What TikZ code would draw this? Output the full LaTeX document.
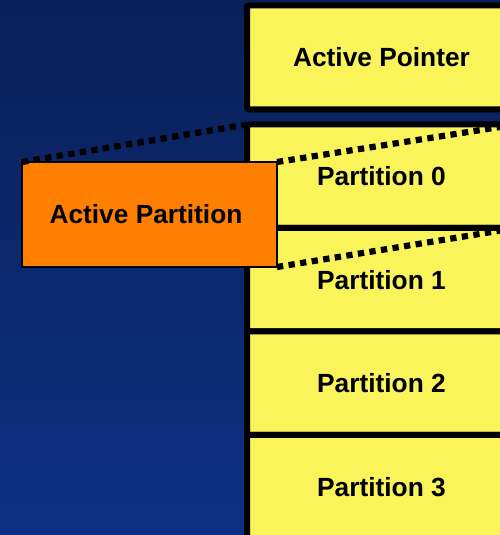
\documentclass[tikz,border=0pt]{standalone}
\usepackage{fontspec}
\setmainfont{Liberation Sans}
\begin{document}
\begin{tikzpicture}[x=1bp,y=1bp,
  every node/.style={font=\bfseries\fontsize{26.3bp}{30bp}\selectfont, text=black},
  cell/.style={draw=black, line width=6bp, fill=cellyellow, rounded corners=2bp,
    minimum width=269bp, minimum height=103.5bp, inner sep=0pt, outer sep=0pt},
  activebox/.style={draw=black, line width=1.5bp, fill=activeorange,
    minimum width=255bp, minimum height=105bp, inner sep=0pt, outer sep=0pt},
  link/.style={draw=black, line width=6.2bp, dash pattern=on 6.3bp off 5.4bp}]
\definecolor{bgtop}{RGB}{10,32,88}
\definecolor{bgbottom}{RGB}{12,49,132}
\definecolor{cellyellow}{RGB}{248,244,90}
\definecolor{activeorange}{RGB}{255,128,0}

% canvas and backdrop
\useasboundingbox (0,0) rectangle (500,535);
\clip (0,0) rectangle (500,535);
\shade[top color=bgtop, bottom color=bgbottom] (0,0) rectangle (500,535);

% pointer cell and the partition column
\node[cell, minimum height=104bp] (ap) at (381.5,477.5) {Active Pointer};
\node[cell] (p0) at (381.5,358.75) {Partition 0};
\node[cell] (p1) at (381.5,255.25) {Partition 1};
\node[cell] (p2) at (381.5,151.75) {Partition 2};
\node[cell] (p3) at (381.5,48.25) {Partition 3};

% the active partition and its outline links to partition 0
\node[activebox] (act) at (149.5,320.5) {\hspace*{-7bp}Active Partition};
\draw[link] (act.north west) -- (p0.north west);
\draw[link] (act.north east) -- (p0.north east);
\draw[link] (act.south east) -- (p0.south east);
\end{tikzpicture}
\end{document}
